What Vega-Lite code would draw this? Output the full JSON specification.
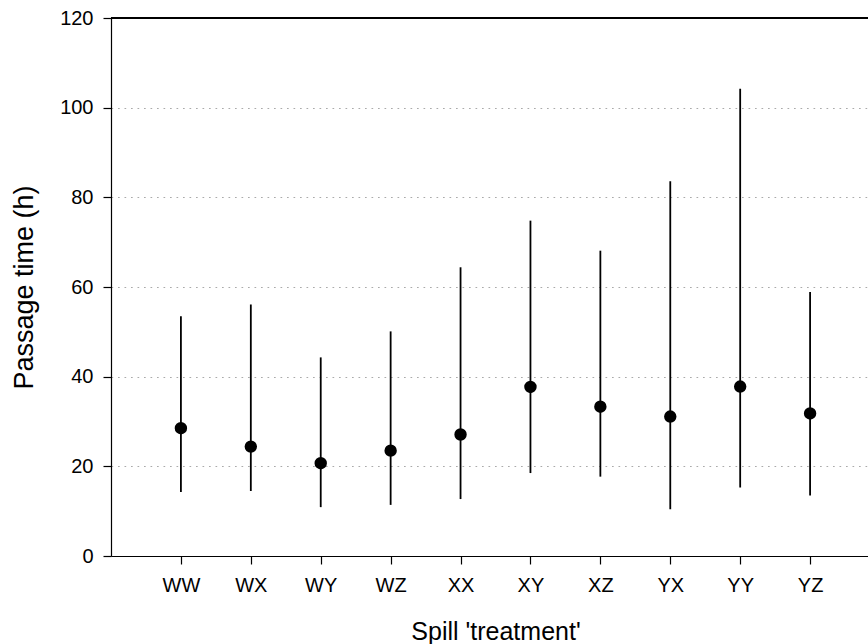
{
  "$schema": "https://vega.github.io/schema/vega-lite/v6.json",
  "width": 757,
  "height": 538,
  "autosize": {"type": "none"},
  "padding": {"left": 111, "top": 18, "right": 0, "bottom": 88},
  "background": "white",
  "config": {
    "view": {"stroke": null},
    "font": "Liberation Sans",
    "axis": {
      "domainColor": "black",
      "domainWidth": 1.2,
      "tickColor": "black",
      "tickWidth": 1.2,
      "tickSize": 8,
      "labelColor": "black",
      "labelFont": "Liberation Sans",
      "labelFontSize": 20,
      "titleFont": "Liberation Sans",
      "titleFontWeight": "normal",
      "titleColor": "black"
    }
  },
  "data": {
    "values": [
      {"treatment": "WW", "mean": 28.5, "low": 14.3, "high": 53.5},
      {"treatment": "WX", "mean": 24.4, "low": 14.5, "high": 56.1},
      {"treatment": "WY", "mean": 20.7, "low": 10.9, "high": 44.3},
      {"treatment": "WZ", "mean": 23.5, "low": 11.4, "high": 50.1},
      {"treatment": "XX", "mean": 27.1, "low": 12.7, "high": 64.4},
      {"treatment": "XY", "mean": 37.7, "low": 18.5, "high": 74.8},
      {"treatment": "XZ", "mean": 33.3, "low": 17.7, "high": 68.1},
      {"treatment": "YX", "mean": 31.1, "low": 10.4, "high": 83.6},
      {"treatment": "YY", "mean": 37.8, "low": 15.3, "high": 104.2},
      {"treatment": "YZ", "mean": 31.8, "low": 13.5, "high": 58.9}
    ]
  },
  "layer": [
    {
      "mark": {"type": "rule", "color": "black", "strokeWidth": 1.2},
      "encoding": {"y": {"datum": 120}}
    },
    {
      "mark": {"type": "rule", "color": "black", "strokeWidth": 1.8},
      "encoding": {
        "x": {
          "field": "treatment",
          "type": "nominal",
          "sort": null,
          "scale": {"type": "point", "padding": 1, "range": [0, 769]},
          "axis": {"title": "Spill 'treatment'", "titleFontSize": 25, "labelAngle": 0, "grid": false, "labelPadding": 11, "titlePadding": 24}
        },
        "y": {
          "field": "low",
          "type": "quantitative",
          "scale": {"domain": [0, 120], "nice": false, "zero": true},
          "axis": {
            "title": "Passage time (h)",
            "titleFontSize": 27,
            "values": [0, 20, 40, 60, 80, 100, 120],
            "grid": true,
            "gridColor": "#aaaaaa",
            "gridDash": [1.7, 4.8],
            "gridWidth": 1,
            "labelPadding": 10,
            "titlePadding": 21
          }
        },
        "y2": {"field": "high"}
      }
    },
    {
      "mark": {"type": "circle", "color": "black", "size": 154, "opacity": 1},
      "encoding": {
        "x": {"field": "treatment", "type": "nominal", "sort": null},
        "y": {"field": "mean", "type": "quantitative"}
      }
    }
  ]
}
